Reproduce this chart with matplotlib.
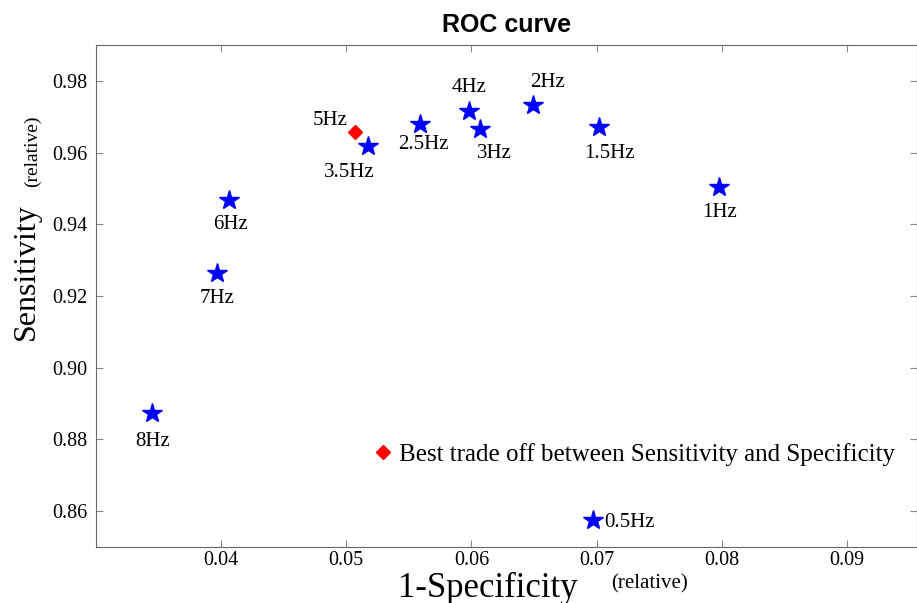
import matplotlib.pyplot as plt

# dados
freqs = ['8Hz', '7Hz', '6Hz', '3.5Hz', '2.5Hz', '4Hz', '3Hz', '2Hz', '1.5Hz', '1Hz', '0.5Hz']
fpr = [0.0345, 0.0397, 0.0406, 0.0517, 0.0559, 0.0598, 0.0607, 0.0649, 0.0702, 0.0798, 0.0697]
sens = [0.8873, 0.9265, 0.9467, 0.9617, 0.9680, 0.9716, 0.9666, 0.9733, 0.9671, 0.9503, 0.8575]

best_freq = '5Hz'
best_fpr = 0.0507
best_sens = 0.9656

# deslocamento dos rótulos em pixels (dx, dy) e alinhamento horizontal
offsets = {
    '8Hz': (0, -28, 'center'),
    '7Hz': (0, -26, 'center'),
    '6Hz': (2, -24, 'center'),
    '3.5Hz': (-18, -26, 'center'),
    '2.5Hz': (3, -21, 'center'),
    '4Hz': (0, 23, 'center'),
    '3Hz': (14, -25, 'center'),
    '2Hz': (15, 22, 'center'),
    '1.5Hz': (10, -26, 'center'),
    '1Hz': (0, -25, 'center'),
    '0.5Hz': (11, -2, 'left'),
}

plt.rcParams['font.family'] = ['Liberation Serif', 'DejaVu Serif']

fig = plt.figure(figsize=(9.17, 6.03), dpi=100)
ax = fig.add_axes([0.1047, 0.0929, 0.8953, 0.8325])

ax.plot(fpr, sens, linestyle='none', marker='*', markersize=15, color='blue')
ax.plot([best_fpr], [best_sens], linestyle='none', marker='D', markersize=7.5,
        color='red', label='Best trade off between Sensitivity and Specificity')

for f, x, y in zip(freqs, fpr, sens):
    dx, dy, ha = offsets[f]
    ax.annotate(f, (x, y), xytext=(dx, dy), textcoords='offset pixels',
                ha=ha, va='center', fontsize=15)
ax.annotate(best_freq, (best_fpr, best_sens), xytext=(-25, 12), textcoords='offset pixels',
            ha='center', va='center', fontsize=15)

ax.set_xlim(0.03, 0.0956)
ax.set_ylim(0.85, 0.99)
ax.set_xticks([0.04, 0.05, 0.06, 0.07, 0.08, 0.09])
ax.set_xticklabels(['0.04', '0.05', '0.06', '0.07', '0.08', '0.09'])
ax.set_yticks([0.86, 0.88, 0.90, 0.92, 0.94, 0.96, 0.98])
ax.set_yticklabels(['0.86', '0.88', '0.90', '0.92', '0.94', '0.96', '0.98'])
ax.tick_params(direction='in', top=True, right=True, labelsize=14.5, length=5,
               color='#888888')
ax.tick_params(axis='x', pad=3)
ax.tick_params(axis='y', pad=6)
for s in ax.spines.values():
    s.set_color('#666666')

ax.legend(loc='center left', bbox_to_anchor=(0.333, 0.185), frameon=False,
          fontsize=18, handletextpad=0.1, handlelength=1.1, borderpad=0,
          borderaxespad=0)

ax.set_title('ROC curve', fontsize=18, fontweight='bold', family='Liberation Sans', pad=9)

# rótulos dos eixos em duas partes
fig.text(488 / 917, 1 - 588 / 603, '1-Specificity', fontsize=25, ha='center', va='center')
fig.text(649 / 917, 1 - 584 / 603, '(relative)', fontsize=15, ha='center', va='center')
fig.text(26 / 917, 1 - 272 / 603, 'Sensitivity', fontsize=23, ha='center', va='center', rotation=90)
fig.text(32 / 917, 1 - 151 / 603, '(relative)', fontsize=14, ha='center', va='center', rotation=90)

plt.savefig('out.png', dpi=100)
